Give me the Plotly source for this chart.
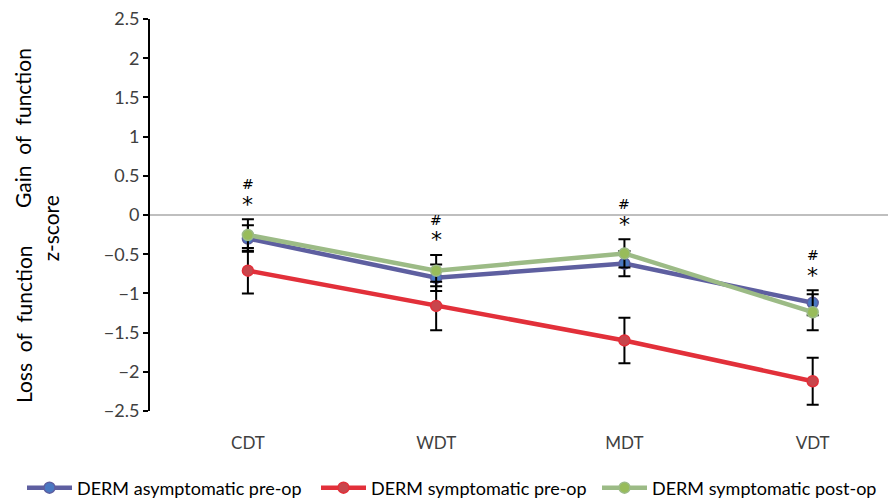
import plotly.graph_objects as go

categories = ["CDT", "WDT", "MDT", "VDT"]
asym_pre = [-0.30, -0.80, -0.62, -1.12]
asym_pre_err = [0.17, 0.17, 0.16, 0.16]
symp_pre = [-0.71, -1.16, -1.60, -2.12]
symp_pre_err = [0.29, 0.31, 0.29, 0.30]
symp_post = [-0.255, -0.71, -0.49, -1.24]
symp_post_err = [0.20, 0.20, 0.18, 0.23]
sig_labels = ["*", "#"]
y_ticks = [2.5, 2, 1.5, 1, 0.5, 0, -0.5, -1, -1.5, -2, -2.5]

FONT = "Lato"
series = [
    ("DERM asymptomatic pre-op", asym_pre, asym_pre_err, "#5E5FA0", "#4A78C2"),
    ("DERM symptomatic pre-op", symp_pre, symp_pre_err, "#E2303A", "#C8464C"),
    ("DERM symptomatic post-op", symp_post, symp_post_err, "#9CBB86", "#98BC5A"),
]
legend_ids = ["legend", "legend2", "legend3"]
legend_x_px = [22, 316, 597]

def fmt(t):
    s = ("%g" % abs(t))
    return ("\u2212" + s) if t < 0 else s

fig = go.Figure()
x_idx = list(range(len(categories)))
for (name, vals, errs, lc, mc), lid in zip(series, legend_ids):
    fig.add_trace(go.Scatter(
        x=x_idx, y=vals, name=name, mode="lines+markers", legend=lid,
        line=dict(color=lc, width=4.5),
        marker=dict(color=mc, size=11, line=dict(color=lc, width=1.5)),
        error_y=dict(type="data", array=errs, visible=True, color="black",
                     thickness=2, width=6),
    ))

# significance markers above the highest error bar at each category
for i in x_idx:
    top = max(v[i] + e[i] for _, v, e, _, _ in series)
    fig.add_annotation(x=i, y=top, text=sig_labels[0], showarrow=False,
                       yanchor="middle", yshift=15,
                       font=dict(family="DejaVu Sans", size=22, color="black"))
    fig.add_annotation(x=i, y=top, text=sig_labels[1], showarrow=False,
                       yanchor="middle", yshift=35,
                       font=dict(family="DejaVu Sans", size=14, color="black"))

# y-axis titles
title_font = dict(family=FONT, size=21, color="black")
fig.add_annotation(xref="paper", yref="paper", x=-0.172, y=(411 - 128) / 392,
                   text="Gain  of  function", textangle=-90, showarrow=False,
                   xanchor="center", yanchor="middle", font=title_font)
fig.add_annotation(xref="paper", yref="paper", x=-0.172, y=(411 - 324) / 392,
                   text="Loss  of  function", textangle=-90, showarrow=False,
                   xanchor="center", yanchor="middle", font=title_font)
fig.add_annotation(xref="paper", yref="paper", x=-0.135, y=(411 - 228) / 392,
                   text="z-score", textangle=-90, showarrow=False,
                   xanchor="center", yanchor="middle", font=title_font)

legends = {}
for lid, lx in zip(legend_ids, legend_x_px):
    legends[lid] = dict(orientation="h", xref="container", yref="container",
                        x=lx / 890, xanchor="left", y=10 / 498, yanchor="middle",
                        font=dict(family=FONT, size=18, color="black"),
                        itemwidth=45, bgcolor="rgba(0,0,0,0)")

fig.update_layout(
    width=890, height=498,
    margin=dict(l=150, r=2, t=19, b=87, autoexpand=False),
    plot_bgcolor="white", paper_bgcolor="white",
    font=dict(family=FONT, size=17, color="#404040"),
    showlegend=True,
    xaxis=dict(range=[-0.52, 3.40], tickmode="array", tickvals=x_idx,
               ticktext=categories, showgrid=False, zeroline=False,
               showline=False, ticks="", ticklabelstandoff=20,
               tickfont=dict(family=FONT, size=17, color="#404040")),
    yaxis=dict(range=[-2.5, 2.5], tickmode="array", tickvals=y_ticks,
               ticktext=[fmt(t) for t in y_ticks],
               showgrid=False, zeroline=True, zerolinecolor="#BFBFBF", zerolinewidth=2,
               showline=True, linecolor="black", linewidth=2,
               ticks="outside", ticklen=5, tickwidth=2, tickcolor="black",
               tickfont=dict(family=FONT, size=18, color="#404040")),
    **legends,
)

fig.write_html("out.html", config={"displayModeBar": False},
               post_script="document.body.style.margin='0';")
